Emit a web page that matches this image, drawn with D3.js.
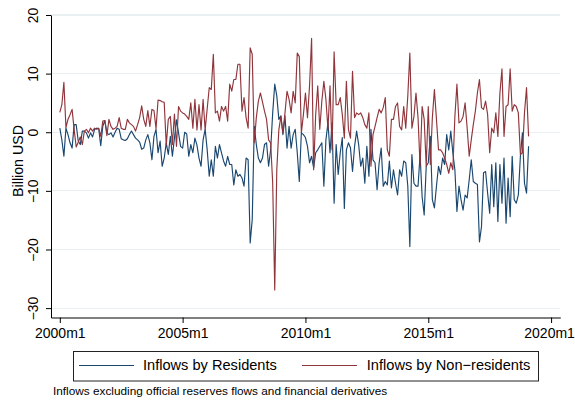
<!DOCTYPE html>
<html>
<head>
<meta charset="utf-8">
<script src="https://cdn.jsdelivr.net/npm/d3@7"></script>
<style>
  html, body { margin: 0; padding: 0; background: #ffffff; }
  svg { display: block; font-family: "Liberation Sans", Arial, Helvetica, sans-serif; }
</style>
</head>
<body>
<svg id="chart" width="575" height="401"></svg>
<script>
// Monthly gross inflows, billion USD, consecutive months starting 2000m1
const residents = [
  0.7, -1.3, -4.1, 0.7, -0.4, -1.8, -2.7, 1.3, 1.3, -1.5, -2.1, 0.2,
  0.2, -0.1, -1.0, -0.1, -0.8, 0.5, 0.7, 0.6, -2.3, 1.0, 2.0,
  -0.1, -0.4, -0.1, -0.8, 0.0, 0.7, 0.5, -1.1, -1.3, -1.4, -1.1, -0.4,
  0.2, -0.4, -1.0, -1.3, -1.7, -2.9, -2.7, -1.3, -0.4, -1.8, -4.7, -0.7,
  0.5, -3.5, -1.5, -5.8, -4.4, -1.8, -3.8, -0.7, -4.1, -1.0, 2.1,
  -0.1, -2.4, -2.7, 0.0, -0.3, -4.1, -2.1, -3.5, -1.0, -2.2, -4.4, -5.8,
  -1.3, 0.5, -3.0, -7.5, -4.7, -7.5, -2.4, -4.4, -2.1, -3.5, -4.9, -5.8,
  -4.1, -5.5, -5.5, -9.0, -6.4, -7.5, -7.2, -7.8, -9.2, -4.4, -4.7, -18.9,
  -14.9, 1.0, -2.1, -4.4, -5.2, -4.4, -2.1, -1.8, -5.8, -3.0, 3.3,
  8.2, 6.2, 2.2, 2.8, -0.4, 2.8, -2.7, 1.0, -2.7, -0.4, 0.5, -3.5,
  -8.4, -0.1, -0.4, -0.9, -2.4, -5.2, -4.1, -6.1, -3.5, -3.0, -2.4, -1.8,
  -9.2, -1.3, 1.6, -3.5, 1.6, -12.1, -2.1, -7.2, -3.5, -0.9, -13.0,
  -3.0, -1.8, -2.7, -6.7, -2.4, 0.2, -2.1, -5.8, -4.4, -8.7, -2.4, -7.5,
  0.5, -4.7, -5.2, -9.8, -5.2, -2.7, -9.2, -8.4, -9.0, -4.9, -9.5, -6.4,
  -8.7, -10.7, -6.4, -7.5, -4.9, -5.2, -9.2, -19.5, -3.8, -8.7, -9.2, -9.2,
  -3.8, -11.0, -14.1, -5.8, -5.2, -0.7, -11.5, -12.9, -9.2, -5.8, -7.2,
  -4.4, -5.5, -0.4, -3.0, 0.2, -3.5, -6.4, -13.5, -9.2, -11.5, -13.3, -10.7,
  -11.2, -8.1, -4.7, -8.4, -8.7, -8.9, -18.7, -16.1, -6.9, -6.7, -10.4, -13.8,
  -5.5, -12.7, -5.2, -15.2, -5.5, -12.1, -4.4, -15.5, -7.8, -14.4, -4.1, -11.5,
  -12.1, -10.7, -4.1, -0.1, -8.7, -10.4, -2.4
];

const nonResidents = [
  3.4, 4.7, 8.5, 0.8, 2.2, 3.0, 3.9, 0.5, -2.5, -1.7, -0.8, -2.1,
  0.2, 0.5, -0.1, 0.7, 0.2, 0.7, 0.5, 0.7, -0.7, 1.9, 2.0,
  -0.6, 2.2, 1.0, 0.5, 0.7, 1.0, 2.5, 0.7, 0.5, 0.5, 2.2, 1.6,
  1.3, 1.0, 0.2, 1.3, 2.5, 4.5, 2.2, 1.0, 3.7, 1.0, 3.9, 3.7,
  0.6, 5.5, 5.4, 5.2, 5.1, -2.2, 2.2, 2.7, -2.1, 3.1, -2.4,
  4.4, 3.6, 3.3, 3.1, 2.7, 2.2, 5.0, 0.7, 5.6, 0.4, 4.7, 0.4,
  5.6, 0.4, 4.0, 7.6, 7.3, 13.3, 3.3, 3.6, 1.9, 4.4, 3.6, 4.4,
  1.9, 8.2, 7.0, 9.0, 9.0, 11.6, 11.6, 3.6, 5.9, 2.5, 0.7, 14.4,
  13.3, -1.8, 2.5, 5.3, 6.7, 5.2, 3.6, 2.2, -1.3, -1.8, -8.7,
  -26.9, -6.4, 0.4, 2.7, -0.1, 3.3, 7.0, 5.6, 3.3, 7.0, 5.0, 13.5,
  12.9, -0.1, 3.0, 6.7, 2.5, 7.9, 16.0, -6.4, 3.0, 7.9, 0.5, 5.3,
  8.7, 5.6, 0.5, 7.9, -3.0, 13.7, 4.7, 4.7, 5.9, 3.0, -1.0,
  8.7, 0.5, -1.0, 10.4, 2.5, 3.3, 3.0, 3.3, 2.5, 1.3, 0.7, 3.3,
  -5.8, -0.4, 1.0, 2.5, 3.9, 3.3, 4.2, 5.9, -3.0, -4.1, 2.2, 2.2,
  4.4, 5.0, 1.0, 0.4, 4.4, 0.7, 6.2, 13.5, 0.7, 2.7, 6.7, 2.5,
  -5.8, 4.4, 2.2, -5.8, 4.4, -5.5, 2.5, 7.3, 2.2, -3.0, -3.0,
  -3.5, -4.4, -5.5, -7.0, -5.2, -6.4, 2.7, 8.2, 1.6, 1.9, 2.7, 5.0,
  0.7, -4.1, -1.3, 1.3, 3.6, 6.7, 9.0, 4.2, 3.9, 5.3, 3.0, -3.5,
  0.7, -0.1, 3.3, -0.7, 6.7, 10.8, -0.7, 4.4, 4.7, 10.8, 3.6, 4.7,
  4.4, 3.3, -3.8, -3.5, 3.3, 7.6, -0.7
];

// x ticks: months elapsed since 2000m1
const xTickMonths = [0, 60, 120, 180, 240];
const xTickLabels = ["2000m1", "2005m1", "2010m1", "2015m1", "2020m1"];
const yTicks = [-30, -20, -10, 0, 10, 20];

const seriesNames = ["Inflows by Residents", "Inflows by Non\u2212residents"];
const seriesColors = ["#1a476f", "#90353b"];
const yTitle = "Billion USD";
const note = "Inflows excluding official reserves flows and financial derivatives";

const svg = d3.select("#chart");
const font = "'Liberation Sans', Arial, Helvetica, sans-serif";

const plot = { left: 51, right: 560.3, top: 15, bottom: 317.5 };

const x = d3.scaleLinear().domain([-4.3, 244.5]).range([plot.left, plot.right]);
const y = d3.scaleLinear().domain([-31.6, 20]).range([plot.bottom, plot.top]);

svg.append("rect").attr("width", 575).attr("height", 401).attr("fill", "#ffffff");

// horizontal grid lines
svg.append("g")
  .selectAll("line")
  .data(yTicks)
  .join("line")
  .attr("x1", plot.left).attr("x2", plot.right)
  .attr("y1", d => y(d)).attr("y2", d => y(d))
  .attr("stroke", "#eaf0f2")
  .attr("stroke-width", 1.2)
  .attr("shape-rendering", "crispEdges");

// series lines
const line = d3.line()
  .x((d, i) => x(i))
  .y(d => y(d));

[residents, nonResidents].forEach((vals, k) => {
  svg.append("path")
    .datum(vals)
    .attr("fill", "none")
    .attr("stroke", seriesColors[k])
    .attr("stroke-width", 1.15)
    .attr("stroke-linejoin", "round")
    .attr("d", line);
});

// y axis
const yAxis = d3.axisLeft(y).tickValues(yTicks).tickSize(5).tickSizeOuter(0);
const gy = svg.append("g")
  .attr("transform", `translate(${plot.left},0)`)
  .call(yAxis);
gy.select(".domain").attr("stroke", "#000").attr("stroke-width", 1);
gy.selectAll(".tick line").attr("stroke", "#000");
gy.selectAll(".tick text")
  .attr("x", null).attr("dy", null)
  .attr("transform", "translate(-13,0) rotate(-90)")
  .attr("text-anchor", "middle")
  .attr("font-family", font)
  .attr("font-size", 13.8)
  .attr("fill", "#000");

// x axis
const xAxis = d3.axisBottom(x)
  .tickValues(xTickMonths)
  .tickFormat((d, i) => xTickLabels[i])
  .tickSize(5.5)
  .tickPadding(5)
  .tickSizeOuter(0);
const gx = svg.append("g")
  .attr("transform", `translate(0,${plot.bottom})`)
  .call(xAxis);
gx.select(".domain").attr("stroke", "#000").attr("stroke-width", 1);
gx.selectAll(".tick line").attr("stroke", "#000");
gx.selectAll(".tick text")
  .attr("font-family", font)
  .attr("font-size", 14)
  .attr("fill", "#000");
// keep the right-most label inside the canvas
gx.selectAll(".tick text").filter((d, i) => i === xTickMonths.length - 1)
  .attr("dx", -2);

// y axis title
svg.append("text")
  .attr("transform", "translate(22.5,161) rotate(-90)")
  .attr("text-anchor", "middle")
  .attr("font-family", font)
  .attr("font-size", 14.2)
  .attr("fill", "#000")
  .text(yTitle);

// legend
const legend = svg.append("g");
legend.append("rect")
  .attr("x", 73.5).attr("y", 351.5)
  .attr("width", 465).attr("height", 29.5)
  .attr("fill", "#fff")
  .attr("stroke", "#222")
  .attr("stroke-width", 1);

const legendItems = [
  { x1: 79, x2: 134, tx: 143 },
  { x1: 302, x2: 357, tx: 366.8 }
];
legendItems.forEach((it, k) => {
  legend.append("line")
    .attr("x1", it.x1).attr("x2", it.x2)
    .attr("y1", 365.5).attr("y2", 365.5)
    .attr("stroke", seriesColors[k])
    .attr("stroke-width", 1.2);
  legend.append("text")
    .attr("x", it.tx).attr("y", 370)
    .attr("font-family", font)
    .attr("font-size", 14.6)
    .attr("fill", "#000")
    .text(seriesNames[k]);
});

// note
svg.append("text")
  .attr("x", 53).attr("y", 395)
  .attr("font-family", font)
  .attr("font-size", 11.8)
  .attr("fill", "#000")
  .text(note);
</script>
</body>
</html>
